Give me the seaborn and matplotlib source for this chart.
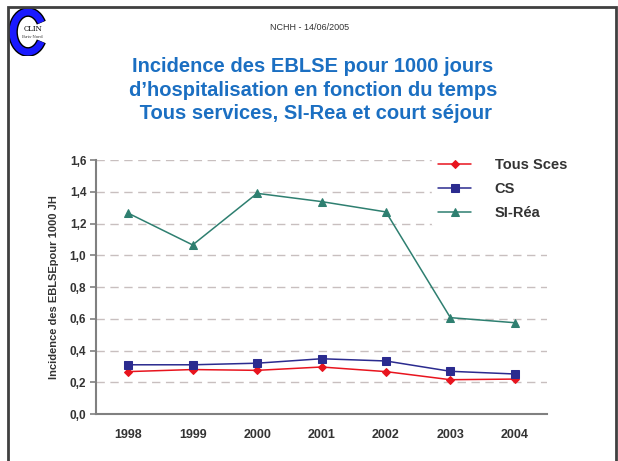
import numpy as np
import pandas as pd
import matplotlib
matplotlib.use("Agg")
import matplotlib.pyplot as plt
import seaborn as sns
from matplotlib.patches import Rectangle, Arc

# values
years = ["1998", "1999", "2000", "2001", "2002", "2003", "2004"]
tous_sces = [0.267, 0.280, 0.275, 0.296, 0.267, 0.216, 0.220]
cs = [0.310, 0.310, 0.320, 0.348, 0.334, 0.269, 0.252]
si_rea = [1.265, 1.065, 1.390, 1.338, 1.273, 0.607, 0.575]
series_names = ["Tous Sces", "CS", "SI-Réa"]
y_ticks = [0.0, 0.2, 0.4, 0.6, 0.8, 1.0, 1.2, 1.4, 1.6]

sns.set_theme(style="white")
plt.rcParams["font.family"] = ["Liberation Sans", "DejaVu Sans"]

fig = plt.figure(figsize=(6.18, 4.61), dpi=100)
ax = fig.add_axes([96 / 618, 1 - 414 / 461, (547 - 96) / 618, (414 - 160) / 461])

pos = np.arange(len(years))
styles = [
    (tous_sces, "#e8141e", "D", 4.5),
    (cs, "#2b2b8f", "s", 5.5),
    (si_rea, "#2e7f70", "^", 6),
]
for name, (vals, col, mk, ms) in zip(series_names, styles):
    sns.lineplot(x=pos, y=vals, ax=ax, color=col, marker=mk, markersize=ms,
                 markeredgecolor=col, linewidth=1.1, label=name)

ax.set_xlim(-0.5, len(years) - 0.5)
ax.set_ylim(0, 1.6)
ax.set_yticks(y_ticks)
ax.set_yticklabels([f"{v:.1f}".replace(".", ",") for v in y_ticks])
ax.set_xticks(pos)
ax.set_xticklabels(years)
ax.set_xticks(np.arange(-0.5, len(years)), minor=True)
ax.tick_params(axis="x", which="major", length=0, pad=11)
ax.tick_params(axis="x", which="minor", length=4, width=1.2, color="#808080", direction="out")
ax.tick_params(axis="y", length=4, width=1.2, color="#808080", direction="out", left=True, pad=3)
for lab in ax.get_xticklabels():
    lab.set_fontweight("bold")
    lab.set_fontsize(9)
    lab.set_color("#333333")
for lab in ax.get_yticklabels():
    lab.set_fontweight("bold")
    lab.set_fontsize(8.5)
    lab.set_color("#333333")

for v in y_ticks[1:]:
    ax.axhline(v, color="#c8bfbf", linestyle=(0, (6, 4)), linewidth=1, zorder=0)

for s in ["top", "right"]:
    ax.spines[s].set_visible(False)
for s in ["left", "bottom"]:
    ax.spines[s].set_color("#808080")
    ax.spines[s].set_linewidth(1.5)

ax.set_ylabel("Incidence des EBLSEpour 1000 JH", fontsize=8, fontweight="bold",
              color="#333333", labelpad=8)

leg = ax.legend(loc="upper left", bbox_to_anchor=(0.745, 1.03), frameon=True,
                framealpha=1, edgecolor="white", fontsize=10.5, handlelength=2.3,
                handletextpad=1.6, labelspacing=0.68, borderaxespad=0)
for t in leg.get_texts():
    t.set_fontweight("bold")
    t.set_color("#333333")

# slide frame
fig.patches.append(Rectangle((8 / 618, -0.1), (616 - 8) / 618, 1.1 - 7 / 461,
                             transform=fig.transFigure, fill=False,
                             edgecolor="#404040", linewidth=2))

fig.text(310 / 618, 1 - 27 / 461, "NCHH - 14/06/2005", ha="center", va="center",
         fontsize=6.5, color="#333333")
title = ("Incidence des EBLSE pour 1000 jours\n"
         "d\u2019hospitalisation en fonction du temps\n"
         " Tous services, SI-Rea et court séjour")
fig.text(313 / 618, 1 - 90 / 461, title, ha="center", va="center", fontsize=14.5,
         fontweight="bold", color="#1b6fc2", linespacing=1.3)

# logo: a big blue "C" drawn as an arc, with the CLIN text inside
lax = fig.add_axes([8 / 618, 1 - 56 / 461, 46 / 618, 48 / 461])
lax.set_xlim(0, 46)
lax.set_ylim(0, 48)
lax.axis("off")
lax.add_patch(Arc((20, 24), 30, 40, theta1=35, theta2=325, color="black", lw=7))
lax.add_patch(Arc((20, 24), 30, 40, theta1=36, theta2=324, color="#1a1aff", lw=5))
lax.text(25, 27, "CLIN", ha="center", va="center", fontsize=5,
         family="DejaVu Serif", color="black")
lax.text(25, 19, "Paris-Nord", ha="center", va="center", fontsize=2.8,
         family="DejaVu Serif", color="#333333")

fig.savefig("out.png", dpi=100)
